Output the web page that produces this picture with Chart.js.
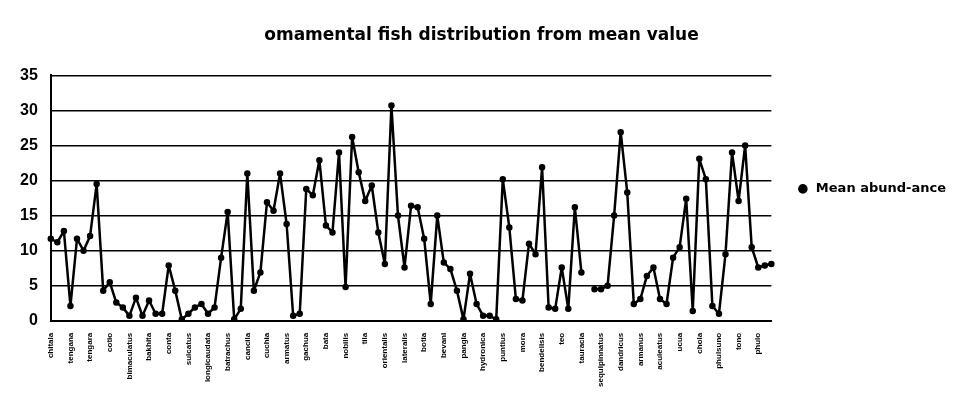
<!DOCTYPE html>
<html>
<head>
<meta charset="utf-8">
<script src="https://cdn.jsdelivr.net/npm/chart.js@4.4.0/dist/chart.umd.min.js"></script>
<style>
  html, body { margin: 0; padding: 0; background: #fff; }
  #wrap { width: 972px; height: 401px; }
</style>
</head>
<body>
<div id="wrap"><canvas id="chart" width="972" height="401"></canvas></div>
<script>
const chartTitle = 'omamental fish distribution from mean value';
const seriesName = 'Mean abund-ance';

// one name under every third point, as on the axis
const tickLabels = [
  'chitala', 'tengana', 'tengara', 'cotio', 'bimaculatus', 'bakhita', 'conta',
  'sulcatus', 'longicaudata', 'batrachus', 'cancila', 'cuchia', 'armatus',
  'gachua', 'bata', 'nobilis', 'tila', 'orientalis', 'lateralis', 'botia',
  'bevani', 'pangia', 'hydronica', 'puntius', 'mora', 'bendelisis', 'teo',
  'tauracia', 'sequipinnatus', 'dandricus', 'armanus', 'aculeatus', 'ucua',
  'chola', 'phulsuno', 'tono', 'phulo'
];
const labelStep = 3;

const meanValues = [
  11.7, 11.2, 12.8, 2.1, 11.7, 10, 12.1, 19.5, 4.3, 5.5,
  2.6, 1.9, 0.7, 3.3, 0.7, 2.9, 1, 1, 7.9, 4.3,
  0.2, 1, 1.9, 2.4, 1, 1.9, 9, 15.5, 0.2, 1.7,
  21, 4.3, 6.9, 16.9, 15.7, 21, 13.8, 0.7, 1, 18.8,
  17.9, 22.9, 13.6, 12.6, 24, 4.8, 26.2, 21.2, 17.1, 19.3,
  12.6, 8.1, 30.7, 15, 7.6, 16.4, 16.2, 11.7, 2.4, 15,
  8.3, 7.4, 4.3, 0.2, 6.7, 2.4, 0.7, 0.7, 0.2, 20.2,
  13.3, 3.1, 2.9, 11, 9.5, 21.9, 1.9, 1.7, 7.6, 1.7,
  16.2, 6.9, null, 4.5, 4.5, 5, 15, 26.9, 18.3, 2.4,
  3.1, 6.4, 7.6, 3.1, 2.4, 9, 10.5, 17.4, 1.4, 23.1,
  20.2, 2.1, 1, 9.5, 24, 17.1, 25, 10.5, 7.6, 7.9,
  8.1
];

const yMin = 0, yMax = 35, yStep = 5;

const categories = meanValues.map((v, i) =>
  i % labelStep === 0 && tickLabels[i / labelStep] ? tickLabels[i / labelStep] : '');

const wideFont = 'DejaVu Sans, Liberation Sans, Arial';
const plainFont = 'Liberation Sans, Arial';

const ctx = document.getElementById('chart').getContext('2d');
new Chart(ctx, {
  type: 'line',
  data: {
    labels: categories,
    datasets: [{
      label: seriesName,
      data: meanValues,
      borderColor: '#000',
      backgroundColor: '#000',
      borderWidth: 2.5,
      borderJoinStyle: 'round',
      pointRadius: 2,
      pointBackgroundColor: '#000',
      pointBorderColor: '#000',
      tension: 0,
      spanGaps: false,
      fill: false
    }]
  },
  options: {
    responsive: false,
    animation: false,
    layout: { padding: { top: 25, left: 7, right: 16, bottom: 10 } },
    plugins: {
      title: {
        display: true,
        text: chartTitle,
        color: '#000',
        font: { family: wideFont, size: 17, weight: 'bold' },
        padding: { top: 0, bottom: 30 }
      },
      legend: {
        position: 'right',
        fullSize: false,
        align: 'start',
        // empty title only used to push the single entry down beside the plot
        title: { display: true, text: '', font: { size: 10 }, padding: { top: 35, bottom: 35 } },
        labels: {
          color: '#000',
          font: { family: wideFont, size: 13, weight: 'bold' },
          usePointStyle: true,
          pointStyle: 'circle',
          boxHeight: 5,
          padding: 25
        }
      },
      tooltip: { enabled: false }
    },
    scales: {
      x: {
        type: 'category',
        offset: false,
        grid: { display: false },
        border: { display: true, color: '#000', width: 2 },
        ticks: {
          autoSkip: false,
          minRotation: 90,
          maxRotation: 90,
          padding: 4,
          color: '#000',
          font: { family: plainFont, size: 8, weight: 'bold' }
        }
      },
      y: {
        min: yMin,
        max: yMax,
        border: { display: true, color: '#000', width: 2 },
        grid: { color: '#000', lineWidth: 1.5, drawTicks: false },
        ticks: {
          stepSize: yStep,
          padding: 13,
          color: '#000',
          font: { family: plainFont, size: 16, weight: 'bold' }
        }
      }
    }
  }
});
</script>
</body>
</html>
